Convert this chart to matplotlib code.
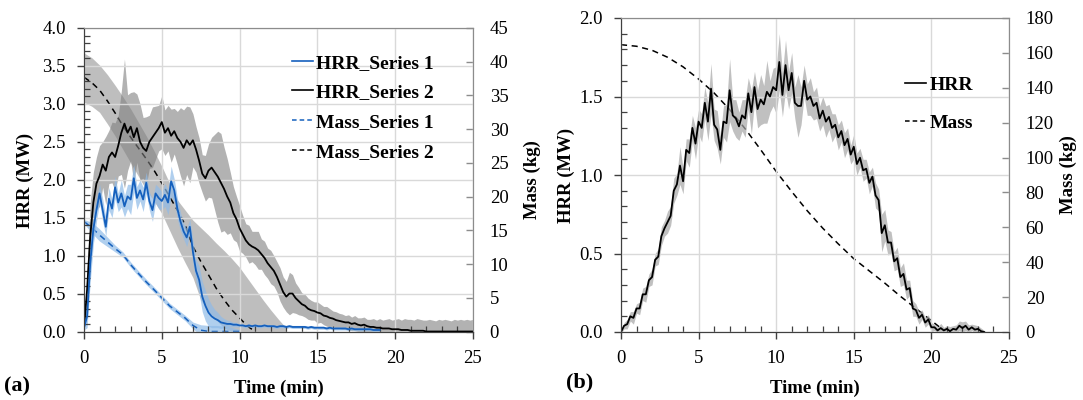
import numpy as np
import matplotlib
matplotlib.use("Agg")
import matplotlib.pyplot as plt
from matplotlib.lines import Line2D

plt.rcParams["font.family"] = ["Liberation Serif", "DejaVu Serif"]

# ---------------- panel (a): two test series ----------------
t_hrr2 = np.linspace(0, 25, 126)
hrr2 = [0.05, 0.55, 1.25, 1.7, 1.95, 2.05, 2.2, 2.12, 2.3, 2.36,
        2.3, 2.45, 2.62, 2.74, 2.62, 2.7, 2.56, 2.68, 2.5, 2.42,
        2.38, 2.5, 2.56, 2.62, 2.68, 2.76, 2.62, 2.68, 2.58, 2.64,
        2.55, 2.5, 2.42, 2.52, 2.46, 2.52, 2.4, 2.25, 2.08, 2.02,
        2.12, 2.16, 2.1, 2.04, 1.96, 1.88, 1.78, 1.7, 1.56, 1.48,
        1.36, 1.28, 1.2, 1.15, 1.12, 1.1, 1.07, 1.02, 0.97, 0.9,
        0.85, 0.8, 0.72, 0.62, 0.52, 0.46, 0.5, 0.5, 0.44, 0.4,
        0.36, 0.34, 0.3, 0.28, 0.27, 0.25, 0.24, 0.21, 0.2, 0.18,
        0.17, 0.15, 0.14, 0.13, 0.12, 0.12, 0.1, 0.11, 0.09, 0.08,
        0.09, 0.07, 0.06, 0.06, 0.05, 0.05, 0.04, 0.04, 0.04, 0.03,
        0.03, 0.03, 0.02, 0.02, 0.02, 0.01, 0.01, 0.01, 0.01, 0.01,
        0.0, 0.0, 0.0, 0.0, 0.0, 0.0, 0.0, 0.0, 0.0, 0.0,
        0.0, 0.0, 0.0, 0.0, 0.0, 0.0]
hrr2_sd = [0.05, 0.3, 0.45, 0.4, 0.35, 0.4, 0.3, 0.45, 0.35, 0.4,
           0.45, 0.4, 0.55, 0.85, 0.5, 0.45, 0.6, 0.45, 0.5, 0.4,
           0.45, 0.35, 0.4, 0.35, 0.3, 0.35, 0.3, 0.3, 0.35, 0.3,
           0.35, 0.45, 0.5, 0.45, 0.5, 0.35, 0.3, 0.3, 0.25, 0.3,
           0.35, 0.4, 0.5, 0.6, 0.65, 0.55, 0.5, 0.4, 0.35, 0.3,
           0.3, 0.25, 0.22, 0.25, 0.2, 0.22, 0.25, 0.2, 0.22, 0.2,
           0.22, 0.2, 0.2, 0.22, 0.2, 0.2, 0.28, 0.25, 0.2, 0.18,
           0.15, 0.15, 0.14, 0.13, 0.12, 0.14, 0.12, 0.12, 0.13, 0.12,
           0.1, 0.11, 0.1, 0.1, 0.09, 0.1, 0.09, 0.1, 0.09, 0.1,
           0.1, 0.09, 0.1, 0.11, 0.1, 0.12, 0.11, 0.12, 0.13, 0.12,
           0.13, 0.14, 0.13, 0.15, 0.14, 0.15, 0.14, 0.16, 0.15, 0.14,
           0.15, 0.16, 0.15, 0.14, 0.16, 0.15, 0.16, 0.15, 0.14, 0.16,
           0.15, 0.16, 0.15, 0.16, 0.15, 0.16]

t_hrr1 = np.linspace(0, 19, 96)
hrr1 = [0.05, 0.2, 0.9, 1.35, 1.6, 1.82, 1.6, 1.38, 1.75, 1.62,
        1.9, 1.7, 1.82, 1.65, 1.78, 1.74, 2.02, 1.76, 1.86, 1.74,
        1.96, 1.72, 1.6, 1.82, 1.76, 1.72, 1.8, 1.7, 1.98, 1.86,
        1.62, 1.45, 1.32, 1.24, 1.38, 1.05, 0.8, 0.68, 0.46, 0.34,
        0.25, 0.2, 0.17, 0.15, 0.12, 0.11, 0.1, 0.1, 0.09, 0.09,
        0.08, 0.08, 0.07, 0.08, 0.07, 0.08, 0.07, 0.07, 0.08, 0.07,
        0.07, 0.07, 0.06, 0.07, 0.07, 0.06, 0.07, 0.06, 0.06, 0.06,
        0.06, 0.06, 0.05, 0.06, 0.05, 0.05, 0.05, 0.05, 0.04, 0.05,
        0.04, 0.04, 0.04, 0.04, 0.04, 0.03, 0.04, 0.03, 0.03, 0.03,
        0.03, 0.03, 0.03, 0.02, 0.02, 0.02]
hrr1_sd = [0.03, 0.15, 0.25, 0.2, 0.15, 0.12, 0.15, 0.12, 0.15, 0.12,
           0.15, 0.12, 0.18, 0.14, 0.16, 0.2, 0.18, 0.15, 0.14, 0.16,
           0.14, 0.12, 0.15, 0.12, 0.14, 0.12, 0.15, 0.16, 0.2, 0.15,
           0.14, 0.12, 0.1, 0.12, 0.1, 0.15, 0.15, 0.18, 0.2, 0.2,
           0.18, 0.15, 0.12, 0.1, 0.08, 0.06, 0.05, 0.04, 0.03, 0.03,
           0.02, 0.02, 0.02, 0.02, 0.02, 0.02, 0.02, 0.02, 0.02, 0.02,
           0.02, 0.02, 0.02, 0.02, 0.02, 0.02, 0.02, 0.02, 0.02, 0.02,
           0.02, 0.02, 0.02, 0.02, 0.02, 0.02, 0.02, 0.02, 0.02, 0.02,
           0.02, 0.02, 0.02, 0.02, 0.02, 0.02, 0.02, 0.02, 0.02, 0.02,
           0.02, 0.02, 0.02, 0.02, 0.02, 0.02]

t_mass1 = np.linspace(0, 10, 21)
mass1 = [16.3, 15.4, 14.3, 13.3, 12.3, 11.4, 9.9, 8.6, 7.35, 6.2,
         5.0, 3.8, 2.9, 2.0, 0.9, 0.2, 0.0, 0.0, 0.0, 0.0, 0.0]
mass1_sd = [0.3, 0.8, 0.9, 0.7, 0.5, 0.4, 0.4, 0.4, 0.4, 0.4,
            0.4, 0.4, 0.4, 0.4, 0.5, 0.8, 0.9, 0.9, 0.8, 0.6, 0.3]

t_mass2 = np.linspace(0, 11, 23)
mass2 = [37.7, 36.9, 35.8, 34.2, 32.4, 30.5, 28.8, 27.2, 25.6, 23.9,
         22.0, 20.0, 18.0, 15.8, 12.6, 10.4, 8.4, 6.4, 4.7, 3.2,
         2.0, 0.8, 0.0]
t_mass2_band = np.linspace(0, 13, 27)
mass2_hi = [41.3, 40.6, 39.5, 38.1, 36.5, 34.8, 33.0, 31.0, 29.0, 26.8,
            24.5, 22.0, 19.5, 18.0, 16.5, 15.4, 14.3, 13.1, 12.0, 10.8,
            9.5, 7.9, 6.3, 4.7, 3.2, 1.8, 0.5]
mass2_lo = [34.0, 33.4, 32.5, 30.8, 29.0, 27.0, 25.0, 23.0, 21.0, 19.3,
            17.5, 15.0, 12.5, 10.2, 8.0, 4.7, 3.0, 1.7, 0.5, 0.0,
            0.0, 0.0, 0.0, 0.0, 0.0, 0.0, 0.0]

# ---------------- panel (b): single test ----------------
t_hrr_b = np.linspace(0, 23.4, 118)
hrr_b = [0.0, 0.04, 0.05, 0.1, 0.09, 0.15, 0.15, 0.24, 0.24, 0.33,
         0.35, 0.46, 0.48, 0.61, 0.66, 0.70, 0.74, 0.90, 0.94, 1.06,
         0.96, 1.16, 1.14, 1.30, 1.20, 1.34, 1.30, 1.46, 1.34, 1.55,
         1.32, 1.29, 1.16, 1.34, 1.33, 1.54, 1.38, 1.36, 1.31, 1.38,
         1.36, 1.52, 1.40, 1.56, 1.42, 1.48, 1.45, 1.53, 1.50, 1.56,
         1.54, 1.72, 1.51, 1.70, 1.54, 1.65, 1.46, 1.44, 1.44, 1.60,
         1.48, 1.50, 1.44, 1.46, 1.36, 1.41, 1.34, 1.37, 1.30, 1.32,
         1.24, 1.28, 1.19, 1.23, 1.13, 1.18, 1.07, 1.11, 1.03, 1.04,
         0.95, 0.99, 0.87, 0.84, 0.63, 0.68, 0.57, 0.57, 0.45, 0.47,
         0.35, 0.37, 0.27, 0.28, 0.15, 0.14, 0.09, 0.11, 0.06, 0.08,
         0.03, 0.03, 0.01, 0.025, 0.01, 0.02, 0.005, 0.02, 0.015, 0.04,
         0.025, 0.04, 0.015, 0.03, 0.015, 0.02, 0.005, 0.0]
hrr_b_sd = [0.01, 0.02, 0.03, 0.03, 0.04, 0.03, 0.04, 0.04, 0.05, 0.04,
            0.05, 0.04, 0.05, 0.06, 0.05, 0.07, 0.06, 0.08, 0.07, 0.12,
            0.08, 0.07, 0.09, 0.08, 0.1, 0.08, 0.09, 0.1, 0.12, 0.16,
            0.1, 0.12, 0.09, 0.1, 0.12, 0.2, 0.1, 0.12, 0.09, 0.1,
            0.12, 0.1, 0.14, 0.1, 0.12, 0.16, 0.12, 0.2, 0.1, 0.12,
            0.15, 0.18, 0.14, 0.16, 0.12, 0.13, 0.1, 0.2, 0.12, 0.1,
            0.1, 0.12, 0.09, 0.1, 0.08, 0.09, 0.1, 0.08, 0.09, 0.07,
            0.08, 0.07, 0.08, 0.07, 0.06, 0.08, 0.07, 0.06, 0.07, 0.06,
            0.07, 0.06, 0.08, 0.07, 0.12, 0.1, 0.08, 0.07, 0.06, 0.07,
            0.06, 0.07, 0.06, 0.05, 0.05, 0.04, 0.04, 0.03, 0.03, 0.03,
            0.03, 0.02, 0.02, 0.03, 0.02, 0.02, 0.03, 0.02, 0.03, 0.03,
            0.04, 0.03, 0.03, 0.02, 0.03, 0.02, 0.02, 0.01]
t_mass_b = [0, 1, 2, 3, 4, 5, 6, 7, 8, 9, 10, 11, 12, 13, 14, 15, 16, 17,
            18, 19, 20, 20.5]
mass_b = [164.7, 163.8, 161.5, 157.5, 152.0, 145.0, 137.0, 127.5, 116.5,
          104.5, 92.0, 80.5, 69.5, 59.5, 50.5, 42.0, 35.0, 28.0, 20.5,
          13.5, 6.5, 3.0]

BLUE = "#1560bd"
LBLUE = "#8fbbe8"
GRAY = "#7f7f7f"
DASH = (0, (4, 3))
FS = 13.5
W, H = 1083, 400


def style(ax, ax2, ymax, ystep, m_max, m_step):
    ax.set_xlim(0, 25)
    ax.set_ylim(0, ymax)
    ax2.set_ylim(0, m_max)
    ax.set_xticks(np.arange(0, 26, 5))
    ax.set_xticks(np.arange(0, 26, 1), minor=True)
    ax.set_yticks(np.arange(0, ymax + 0.01, ystep))
    ax.set_yticks(np.arange(0, ymax + 0.01, 0.1), minor=True)
    ax.yaxis.set_major_formatter(matplotlib.ticker.FormatStrFormatter("%.1f"))
    ax2.set_yticks(np.arange(0, m_max + 0.1, m_step))
    ax.grid(True, which="major", color="#d9d9d9", linewidth=1)
    ax.tick_params(which="major", direction="out", length=5, width=1,
                   color="#404040", labelsize=FS, pad=8)
    ax.tick_params(which="minor", direction="in", length=4, width=0.9,
                   color="#404040")
    ax2.tick_params(direction="in", length=5, width=1, color="#8c8c8c",
                    labelsize=FS, pad=12)
    for a in (ax, ax2):
        a.spines["left"].set_color("#404040")
        a.spines["bottom"].set_color("#404040")
        a.spines["top"].set_color("#8c8c8c")
        a.spines["right"].set_color("#8c8c8c")
    # HRR axes above the mass axes so lines sit on top
    ax.set_zorder(ax2.get_zorder() + 1)
    ax.patch.set_visible(False)


def label(x, y, s, rot=0):
    fig.text(x / W, 1 - y / H, s, fontsize=FS, fontweight="bold",
             rotation=rot, ha="center", va="center")


fig = plt.figure(figsize=(10.83, 4.0), dpi=100)

# ===================== (a) =====================
axa = fig.add_axes([84 / W, 68.5 / H, 389 / W, 303.5 / H])
axa2 = axa.twinx()

h2 = np.array(hrr2)
s2 = np.array(hrr2_sd)
h1 = np.array(hrr1)
s1 = np.array(hrr1_sd)
m1 = np.array(mass1)
m1s = np.array(mass1_sd)

axa2.fill_between(t_mass2_band, mass2_lo, mass2_hi, color=GRAY, alpha=0.5,
                  linewidth=0)
axa2.fill_between(t_mass1, m1 - m1s, m1 + m1s, color=LBLUE, alpha=0.7,
                  linewidth=0)
axa2.plot(t_mass2, mass2, color="black", linestyle=DASH, linewidth=1.1)
axa2.plot(t_mass1, mass1, color=BLUE, linestyle=DASH, linewidth=1.1)

axa.fill_between(t_hrr2, h2 - s2, h2 + s2, color=GRAY, alpha=0.6,
                 linewidth=0)
axa.fill_between(t_hrr1, h1 - s1, h1 + s1, color=LBLUE, alpha=0.7,
                 linewidth=0)
axa.plot(t_hrr2, hrr2, color="black", linewidth=1.3)
axa.plot(t_hrr1, hrr1, color=BLUE, linewidth=1.3)

style(axa, axa2, 4.0, 0.5, 45, 5)
label(25, 180, "HRR (MW)", 90)
label(532, 180, "Mass (kg)", 90)
label(278.5, 388, "Time (min)")

handles_a = [Line2D([], [], color=BLUE, linewidth=1.2),
             Line2D([], [], color="black", linewidth=1.2),
             Line2D([], [], color=BLUE, linestyle=(0, (3, 2)), linewidth=1.1),
             Line2D([], [], color="black", linestyle=(0, (3, 2)), linewidth=1.1)]
fig.legend(handles_a, ["HRR_Series 1", "HRR_Series 2", "Mass_Series 1",
                       "Mass_Series 2"],
           loc="upper left", bbox_to_anchor=(292 / W, 1 - 54 / H),
           frameon=False, prop={"size": 14, "weight": "bold"},
           handlelength=1.1, handletextpad=0.15, labelspacing=0.62,
           borderpad=0, borderaxespad=0)
fig.text(17 / W, 1 - 386 / H, "(a)", fontsize=16, fontweight="bold",
         ha="center", va="center")

# ===================== (b) =====================
axb = fig.add_axes([621 / W, 68 / H, 388 / W, 314 / H])
axb2 = axb.twinx()

hb = np.array(hrr_b)
sb = np.array(hrr_b_sd)
axb2.plot(t_mass_b, mass_b, color="black", linestyle=DASH, linewidth=1.1)
axb.fill_between(t_hrr_b, hb - sb, hb + sb, color="#a6a6a6", alpha=0.7,
                 linewidth=0)
axb.plot(t_hrr_b, hrr_b, color="black", linewidth=1.3)

style(axb, axb2, 2.0, 0.5, 180, 20)
label(566, 175, "HRR (MW)", 90)
label(1068, 175, "Mass (kg)", 90)
label(815, 388, "Time (min)")

handles_b = [Line2D([], [], color="black", linewidth=1.2),
             Line2D([], [], color="black", linestyle=(0, (3, 2)), linewidth=1.1)]
fig.legend(handles_b, ["HRR", "Mass"],
           loc="upper left", bbox_to_anchor=(905 / W, 1 - 76 / H),
           frameon=False, prop={"size": 14, "weight": "bold"},
           handlelength=1.1, handletextpad=0.15, labelspacing=1.05,
           borderpad=0, borderaxespad=0)
fig.text(580 / W, 1 - 382 / H, "(b)", fontsize=16, fontweight="bold",
         ha="center", va="center")

fig.savefig("out.png", dpi=100)
